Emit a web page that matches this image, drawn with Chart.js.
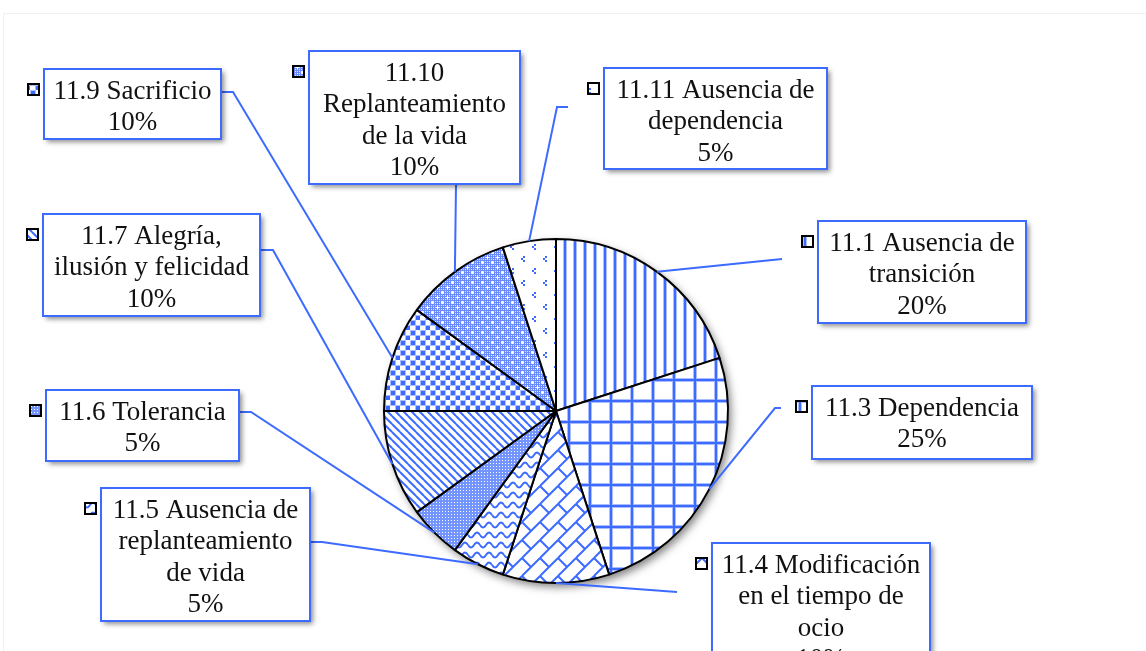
<!DOCTYPE html>
<html>
<head>
<meta charset="utf-8">
<script src="https://cdn.jsdelivr.net/npm/chart.js@4"></script>
<style>
  html, body { margin: 0; padding: 0; background: #fff; }
  #wrap { width: 1146px; height: 651px; }
</style>
</head>
<body>
<div id="wrap"><canvas id="pieChart" width="1146" height="651"></canvas></div>
<script>
const categories = [
    '11.1 Ausencia de transición',
    '11.3 Dependencia',
    '11.4 Modificación en el tiempo de ocio',
    '11.5 Ausencia de replanteamiento de vida',
    '11.6 Tolerancia',
    '11.7 Alegría, ilusión y felicidad',
    '11.9 Sacrificio',
    '11.10 Replanteamiento de la vida',
    '11.11 Ausencia de dependencia'
];
const percentages = [20, 25, 10, 5, 5, 10, 10, 10, 5];

// how each category name is wrapped inside its label box
const labelLines = [
    ['11.1 Ausencia de', 'transición'],
    ['11.3 Dependencia'],
    ['11.4 Modificación', 'en el tiempo de', 'ocio'],
    ['11.5 Ausencia de', 'replanteamiento', 'de vida'],
    ['11.6 Tolerancia'],
    ['11.7 Alegría,', 'ilusión y felicidad'],
    ['11.9 Sacrificio'],
    ['11.10', 'Replanteamiento', 'de la vida'],
    ['11.11 Ausencia de', 'dependencia']
];
const fillKinds = ['vertical', 'grid', 'brick', 'wave', 'checker', 'diagonal', 'squares', 'dotgrid', 'sparse'];

// label box placement [x, y, w, h] and leader line bends (layout only)
const boxes = [
    [818, 221, 208, 102],
    [812, 386, 220, 73],
    [712, 543, 218, 124],
    [101, 488, 209, 133],
    [46, 390, 193, 71],
    [43, 214, 217, 102],
    [44, 69, 177, 70],
    [309, 51, 211, 133],
    [604, 68, 223, 101]
];
const leaders = [
    [[782, 259]],
    [[775, 408], [781, 408]],
    [[677, 592]],
    [[322, 542], [310, 542]],
    [[251, 412], [239, 412]],
    [[273, 250], [260, 250]],
    [[233, 92], [221, 92]],
    [[456, 184]],
    [[557, 107], [568, 107]]
];

const BLUE = '#3d6bff';
const PALE = '#a9bdff';

function makeTile(w, h, draw) {
    const c = document.createElement('canvas');
    c.width = w;
    c.height = h;
    const g = c.getContext('2d');
    g.fillStyle = '#fff';
    g.fillRect(0, 0, w, h);
    draw(g, w, h);
    return c;
}

// draws fn at the 9 neighbouring offsets so tiles join up
function wrap(g, w, h, fn) {
    for (let dx = -w; dx <= w; dx += w) {
        for (let dy = -h; dy <= h; dy += h) {
            g.save();
            g.translate(dx, dy);
            fn();
            g.restore();
        }
    }
}

const tiles = {
    vertical: () => makeTile(10, 10, g => {
        g.fillStyle = PALE; g.fillRect(3, 0, 4, 10);
        g.fillStyle = BLUE; g.fillRect(4, 0, 2, 10);
    }),
    grid: () => makeTile(21, 21, g => {
        g.fillStyle = PALE; g.fillRect(0, 0, 21, 4); g.fillRect(0, 0, 4, 21);
        g.fillStyle = BLUE; g.fillRect(0, 1, 21, 2); g.fillRect(1, 0, 2, 21);
    }),
    brick: () => makeTile(18, 18, (g, w, h) => {
        g.strokeStyle = BLUE; g.lineWidth = 2;
        wrap(g, w, h, () => {
            g.beginPath();
            g.moveTo(0, 18); g.lineTo(18, 0);
            g.moveTo(0, 0); g.lineTo(9, 9);
            g.stroke();
        });
    }),
    wave: () => makeTile(12, 10, (g, w, h) => {
        g.strokeStyle = BLUE; g.lineWidth = 2;
        wrap(g, w, h, () => {
            g.beginPath();
            for (let x = 0; x <= 12; x++) {
                const y = 5 + 2.5 * Math.sin(2 * Math.PI * x / 12);
                if (x === 0) g.moveTo(x, y); else g.lineTo(x, y);
            }
            g.stroke();
        });
    }),
    checker: () => makeTile(3, 3, g => {
        g.fillStyle = '#7494ff'; g.fillRect(0, 0, 3, 3);
        g.fillStyle = '#fff'; g.fillRect(1, 1, 1, 1);
    }),
    diagonal: () => makeTile(8, 8, (g, w, h) => {
        g.strokeStyle = BLUE; g.lineWidth = 2;
        wrap(g, w, h, () => {
            g.beginPath(); g.moveTo(0, 0); g.lineTo(8, 8); g.stroke();
        });
    }),
    squares: () => makeTile(10, 10, g => {
        g.fillStyle = PALE;
        g.fillRect(0, 0, 6, 6);
        g.fillRect(5, 5, 6, 6);
        g.fillStyle = BLUE;
        g.fillRect(1, 1, 4, 4);
        g.fillRect(6, 6, 4, 4);
    }),
    dotgrid: () => makeTile(10, 10, g => {
        g.fillStyle = '#6a8bff'; g.fillRect(0, 0, 10, 10);
        g.fillStyle = '#dfe6ff';
        for (let x = 1; x < 10; x += 2) {
            for (let y = 1; y < 10; y += 2) g.fillRect(x, y, 1, 1);
        }
        g.fillStyle = '#fff';
        g.fillRect(1, 2, 3, 1); g.fillRect(2, 1, 1, 3);
        g.fillRect(6, 7, 3, 1); g.fillRect(7, 6, 1, 3);
    }),
    sparse: () => makeTile(22, 24, g => {
        g.fillStyle = BLUE;
        [[4, 4], [15, 16]].forEach(([x, y]) => {
            g.fillRect(x + 2, y, 2, 2);
            g.fillRect(x, y + 2, 2, 2);
            g.fillRect(x + 2, y + 4, 2, 2);
        });
    })
};

const ctx = document.getElementById('pieChart').getContext('2d');
const patterns = fillKinds.map(k => ctx.createPattern(tiles[k](), 'repeat'));

const pieShadow = {
    id: 'pieShadow',
    beforeDatasetsDraw(chart) {
        const arc = chart.getDatasetMeta(0).data[0];
        if (!arc) return;
        const c = chart.ctx;
        c.save();
        c.shadowColor = 'rgba(0, 0, 0, 0.5)';
        c.shadowBlur = 8;
        c.shadowOffsetX = 3;
        c.shadowOffsetY = 4;
        c.fillStyle = '#fff';
        c.beginPath();
        c.arc(arc.x, arc.y, arc.outerRadius, 0, Math.PI * 2);
        c.fill();
        c.restore();
    }
};

const calloutLabels = {
    id: 'calloutLabels',
    afterDraw(chart) {
        const c = chart.ctx;
        const meta = chart.getDatasetMeta(0);
        const total = percentages.reduce((a, b) => a + b, 0);

        c.save();
        // faint outer frame
        c.strokeStyle = '#f0f0f0';
        c.lineWidth = 1;
        c.strokeRect(3.5, 13.5, 1200, 700);

        // leader lines
        c.strokeStyle = BLUE;
        c.lineWidth = 2;
        meta.data.forEach((arc, i) => {
            const p = arc.getProps(['x', 'y', 'startAngle', 'endAngle', 'outerRadius'], true);
            const mid = (p.startAngle + p.endAngle) / 2;
            c.beginPath();
            c.moveTo(p.x + Math.cos(mid) * p.outerRadius, p.y + Math.sin(mid) * p.outerRadius);
            leaders[i].forEach(([lx, ly]) => c.lineTo(lx, ly));
            c.stroke();
        });

        // boxes
        c.font = '27px "Liberation Serif", serif';
        c.textAlign = 'center';
        c.textBaseline = 'alphabetic';
        boxes.forEach(([x, y, w, h], i) => {
            c.save();
            c.shadowColor = 'rgba(0, 0, 0, 0.45)';
            c.shadowBlur = 5;
            c.shadowOffsetX = 3;
            c.shadowOffsetY = 3;
            c.fillStyle = '#fff';
            c.fillRect(x, y, w, h);
            c.restore();
            c.strokeStyle = BLUE;
            c.lineWidth = 2;
            c.strokeRect(x, y, w, h);

            const lines = labelLines[i].concat([Math.round(percentages[i] / total * 100) + '%']);
            c.fillStyle = '#111';
            lines.forEach((t, j) => c.fillText(t, x + w / 2, y + 30 + j * 31.3));

            // legend key
            c.fillStyle = patterns[i];
            c.fillRect(x - 17, y + 14, 13, 13);
            c.strokeStyle = '#000';
            c.lineWidth = 2;
            c.strokeRect(x - 16, y + 15, 11, 11);
        });
        c.restore();
    }
};

new Chart(ctx, {
    type: 'pie',
    data: {
        labels: categories,
        datasets: [{
            data: percentages,
            backgroundColor: patterns,
            borderColor: '#000',
            borderWidth: 2
        }]
    },
    options: {
        responsive: false,
        animation: false,
        layout: {
            padding: { left: 383, right: 417, top: 238, bottom: 67 }
        },
        plugins: {
            legend: { display: false },
            tooltip: { enabled: false }
        }
    },
    plugins: [pieShadow, calloutLabels]
});
</script>
</body>
</html>
